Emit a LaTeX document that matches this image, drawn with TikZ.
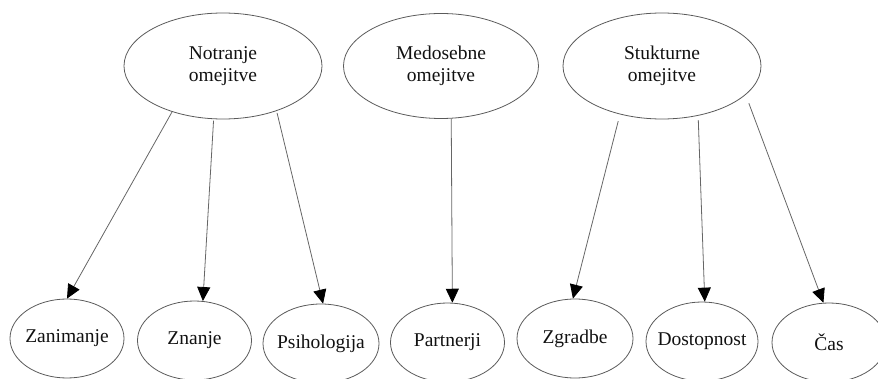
\documentclass[tikz,border=0pt]{standalone}
\usepackage{fontspec}
\setmainfont{Liberation Serif}
\usetikzlibrary{shapes.geometric,arrows.meta}

\definecolor{edgegray}{HTML}{5A5A5A}
\definecolor{linegray}{HTML}{666666}
\definecolor{textdark}{HTML}{111111}

\tikzset{
  topnode/.style={ellipse, draw=edgegray, line width=0.8pt, inner sep=-10pt,
    minimum width=198pt, minimum height=106pt, align=center,
    font=\fontsize{19.5}{22}\selectfont, text=textdark},
  leaf/.style={ellipse, draw=edgegray, line width=0.8pt, inner sep=-10pt,
    minimum width=114pt, minimum height=79pt,
    font=\fontsize{19.5}{22}\selectfont, text=textdark},
  link/.style={draw=linegray, line width=0.8pt,
    -{Triangle[length=14pt,width=13pt]}, arrows={[color=black]}},
}

\begin{document}
\begin{tikzpicture}[x=1pt, y=-1pt]
  \useasboundingbox (0,0) rectangle (878,379);

  % category ellipses
  \node[topnode] (notr) at (223,66) {Notranje\\omejitve};
  \node[topnode, minimum width=195pt, minimum height=105pt] (med) at (441,66) {Medosebne\\omejitve};
  \node[topnode] (stu) at (662,66) {Stukturne\\omejitve};

  % leaf ellipses
  \node[leaf] (zan) at (67,338.5) {Zanimanje};
  \node[leaf] (zna) at (194.5,340.5) {Znanje};
  \node[leaf, minimum width=116pt] (psi) at (321,343.5) {Psihologija};
  \node[leaf] (par) at (447.5,342.5) {Partnerji};
  \node[leaf, minimum width=116pt] (zgr) at (575,338.5) {Zgradbe};
  \node[leaf, minimum width=112pt] (dos) at (702,341.5) {Dostopnost};
  \node[leaf] (cas) at (829,342.5) {Čas};

  % connectors
  \draw[link] (notr.-138) -- (zan.north);
  \draw[link, shorten <=1.5pt] (notr.-100.5) -- (zna.78);
  \draw[link, shorten <=2pt] (notr.-40) -- (psi.87);
  \draw[link] (med.-79) -- (par.83.5);
  \draw[link, shorten <=7pt] (stu.-131.3) -- (zgr.93);
  \draw[link, shorten <=4.5pt] (stu.-54.9) -- (dos.86);
  \draw[link, shorten <=9pt] (stu.-19) -- (cas.98.5);
\end{tikzpicture}
\end{document}
